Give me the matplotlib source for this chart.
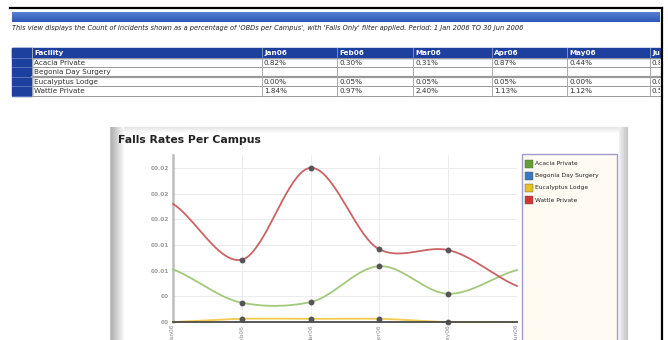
import numpy as np
import matplotlib.pyplot as plt
from matplotlib.patches import Rectangle
from matplotlib.ticker import MultipleLocator, FuncFormatter

# falls as a percentage of OBDs, Jan-Jun 2006
months = ['Jan06', 'Feb06', 'Mar06', 'Apr06', 'May06', 'Jun06']
facilities = ['Acacia Private', 'Begonia Day Surgery', 'Eucalyptus Lodge', 'Wattle Private']
acacia = [0.82, 0.30, 0.31, 0.87, 0.44, 0.81]
begonia = [None, None, None, None, None, None]
eucalyptus = [0.00, 0.05, 0.05, 0.05, 0.00, 0.00]
wattle = [1.84, 0.97, 2.40, 1.13, 1.12, 0.56]

line_colors = ['#a2c97c', '#4a86c8', '#f2cc4c', '#cb6365']
swatch_colors = ['#64a030', '#3a78c0', '#e2c224', '#d83434']

W, H = 668, 340
fig = plt.figure(figsize=(W / 100, H / 100), dpi=100)
page = fig.add_axes([0, 0, 1, 1])
page.set_xlim(0, W)
page.set_ylim(H, 0)
page.axis('off')


def px_box(x0, y0, x1, y1):
    return [x0 / W, 1 - y1 / H, (x1 - x0) / W, (y1 - y0) / H]


def gradient(x0, y0, x1, y1, c0, c1, horizontal=False, z=1):
    c0 = np.array(plt.matplotlib.colors.to_rgb(c0))
    c1 = np.array(plt.matplotlib.colors.to_rgb(c1))
    t = np.linspace(0, 1, 64)
    g = c0 + (c1 - c0) * t[:, None]
    img = g[None, :, :] if horizontal else g[:, None, :]
    page.imshow(img, extent=(x0, x1, y1, y0), aspect='auto', zorder=z,
                interpolation='bilinear')


# page border and header bar
page.plot([10, 662], [8, 8], color='black', lw=1.6, zorder=5)
page.plot([662, 662], [8, 340], color='black', lw=1.6, zorder=5)
gradient(12, 12, 660, 22, '#5780d2', '#2e56b6')
page.text(12, 28, "This view displays the Count of Incidents shown as a percentage of 'OBDs per Campus', "
          "with 'Falls Only' filter applied. Period: 1 Jan 2006 TO 30 Jun 2006",
          fontsize=4.8, style='italic', color='#222222', va='center', ha='left')

# data table, cut off at the right edge of the page
clip = Rectangle((0, 0), 660, 340, transform=page.transData)
col_x = [12, 32, 262, 337, 413, 492, 567, 650, 740]
row_y = [48, 57.5, 67, 76.5, 86, 95.5]
blue = '#1d3f9e'
page.add_patch(Rectangle((12, 48), 648, 9.5, color=blue, zorder=2))
page.add_patch(Rectangle((12, 48), 20, 47.5, color=blue, zorder=2))
headers = ['Facility'] + months
for j, h in enumerate(headers):
    t = page.text(col_x[j + 1] + 2, 52.8, h, fontsize=5.2, fontweight='bold',
                  color='white', va='center', ha='left', zorder=4)
    t.set_clip_path(clip)
    t.set_clip_on(True)
rows = [acacia, begonia, eucalyptus, wattle]
for i, (name, vals) in enumerate(zip(facilities, rows)):
    y = (row_y[i + 1] + row_y[i + 2]) / 2
    page.text(34, y + 0.3, name, fontsize=5.2, color='#333333', va='center', ha='left', zorder=4)
    for j, v in enumerate(vals):
        if v is None:
            continue
        t = page.text(col_x[j + 2] + 2, y + 0.3, f'{v:.2f}%', fontsize=5.2, color='#333333',
                      va='center', ha='left', zorder=4)
        t.set_clip_path(clip)
        t.set_clip_on(True)
for k, y in enumerate(row_y[1:]):
    lw = 1.6 if k == 2 else 0.7
    page.plot([32, 660], [y, y], color='#999999', lw=lw, zorder=3)
    page.plot([12, 32], [y, y], color='#6f86c8', lw=0.5, zorder=3)
for x in col_x[1:8]:
    page.plot([x, x], [48, 95.5], color='#aaaaaa', lw=0.7, zorder=3)
for x in col_x[2:8]:
    page.plot([x, x], [48, 57.5], color='#6f86c8', lw=0.6, zorder=3)

# chart panel
page.add_patch(Rectangle((110, 127), 517, 230, facecolor='white', edgecolor='#c4c4c4', lw=0.8, zorder=1))
gradient(110.5, 127.5, 124, 340, '#b0b0b0', '#ffffff', horizontal=True, z=2)
gradient(619, 127.5, 627, 340, '#f2f2f2', '#c8c8c8', horizontal=True, z=2)
gradient(124, 127.5, 619, 133, '#e4e4e4', '#ffffff', z=2)
page.text(118, 140, 'Falls Rates Per Campus', fontsize=7.8, fontweight='bold',
          color='#222222', va='center', ha='left', zorder=4)

# legend
page.add_patch(Rectangle((522, 154), 95, 200, facecolor='#fffaf2', edgecolor='#a09ccc', lw=1.0, zorder=3))
for i, name in enumerate(facilities):
    y = 163 + i * 12.2
    page.add_patch(Rectangle((524.5, y - 3.5), 8, 8, facecolor=swatch_colors[i],
                             edgecolor='#555555', lw=0.3, zorder=4))
    page.text(535, y + 0.5, name, fontsize=4.3, color='#222222', va='center', ha='left', zorder=4)


def smooth(vals, n=40, k=0.8):
    # cardinal spline through the monthly points
    y = np.asarray(vals, dtype=float)
    p = np.concatenate([[2 * y[0] - y[1]], y, [2 * y[-1] - y[-2]]])
    m = k * (p[2:] - p[:-2]) / 2
    t = np.linspace(0, 1, n, endpoint=False)
    h00 = 2 * t ** 3 - 3 * t ** 2 + 1
    h10 = t ** 3 - 2 * t ** 2 + t
    h01 = -2 * t ** 3 + 3 * t ** 2
    h11 = t ** 3 - t ** 2
    xs, ys = [], []
    for i in range(len(y) - 1):
        xs.append(i + t)
        ys.append(h00 * y[i] + h10 * m[i] + h01 * y[i + 1] + h11 * m[i + 1])
    xs.append([len(y) - 1])
    ys.append([y[-1]])
    return np.concatenate(xs), np.concatenate(ys)


ax = fig.add_axes(px_box(173, 155, 517, 322))
ax.set_facecolor('none')
x = np.arange(len(months))
for vals, c in zip(rows, line_colors):
    if any(v is None for v in vals):
        continue
    frac = np.array(vals) / 100
    sx, sy = smooth(frac)
    ax.plot(sx, sy, color=c, lw=1.3, zorder=3, clip_on=False)
    ax.plot(x[1:5], frac[1:5], 'o', color='#555555', ms=3.2, zorder=4, clip_on=False)

ax.set_xlim(0, 5)
ax.set_ylim(0, 0.026)
ax.yaxis.set_major_locator(MultipleLocator(0.004))


def fmt(v, pos):
    s = f'{v:05.2f}'
    return s[:-3] if s.endswith('.00') else s


ax.yaxis.set_major_formatter(FuncFormatter(fmt))
ax.set_xticks(x)
ax.set_xticklabels(months, rotation=90, va='top', ha='center')
ax.tick_params(axis='y', length=0, pad=3, labelsize=4.2, labelcolor='#9a9a9a')
ax.tick_params(axis='x', length=0, pad=2, labelsize=4.2, labelcolor='#8a8a8a')
for lab in ax.get_yticklabels():
    lab.set_fontweight('bold')
ax.grid(True, color='#ececec', lw=0.7)
ax.set_axisbelow(True)
for s in ['top', 'right']:
    ax.spines[s].set_visible(False)
ax.spines['left'].set_color('#bdbdbd')
ax.spines['left'].set_linewidth(1.8)
ax.spines['bottom'].set_color('#4a4a4a')
ax.spines['bottom'].set_linewidth(1.3)
ax.spines['bottom'].set_zorder(5)

fig.savefig('out.png', dpi=100)
